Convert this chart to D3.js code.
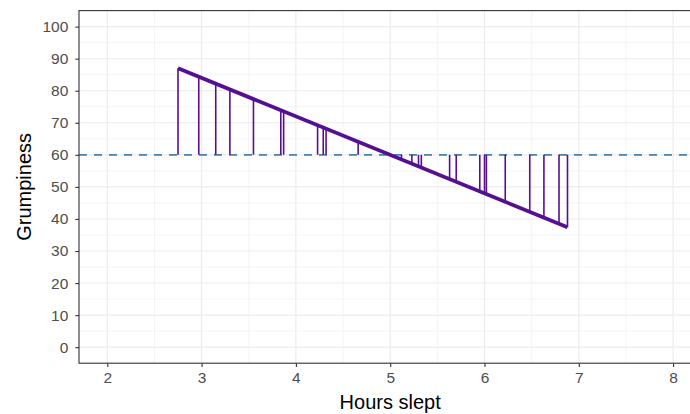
<!DOCTYPE html>
<html>
<head>
<meta charset="utf-8">
<script src="https://cdn.jsdelivr.net/npm/d3@7"></script>
<style>
  body { margin: 0; background: #fff; }
  text { font-family: "Liberation Sans", Arial, Helvetica, sans-serif; }
</style>
</head>
<body>
<svg id="chart" width="690" height="414"></svg>
<script>
// Hours slept for each observation and the model's fitted grumpiness
const sleepHours = [2.75, 2.97, 3.15, 3.30, 3.55, 3.84, 3.87, 4.23, 4.29, 4.32,
                    4.66, 5.12, 5.23, 5.30, 5.33, 5.63, 5.70, 5.95, 6.00, 6.02,
                    6.22, 6.48, 6.63, 6.79, 6.88];
const fittedGrump = [87.0, 84.4, 82.2, 80.4, 77.4, 73.9, 73.6, 69.2, 68.5, 68.2,
                     64.1, 58.6, 57.2, 56.4, 56.0, 52.4, 51.6, 48.6, 48.0, 47.8,
                     45.4, 42.2, 40.4, 38.5, 37.4];
// Mean grumpiness (horizontal reference)
const meanGrump = 60;

const xTicks = [2, 3, 4, 5, 6, 7, 8];
const yTicks = [0, 10, 20, 30, 40, 50, 60, 70, 80, 90, 100];
const xMinor = [2.5, 3.5, 4.5, 5.5, 6.5, 7.5];
const yMinor = [5, 15, 25, 35, 45, 55, 65, 75, 85, 95];

const svg = d3.select("#chart");
const panel = { left: 79, right: 701.4, top: 10.6, bottom: 363.2 };

const x = d3.scaleLinear().domain([1.7, 8.3]).range([panel.left, panel.right]);
const y = d3.scaleLinear().domain([-5, 105]).range([panel.bottom, panel.top]);

svg.append("clipPath").attr("id", "panel-clip")
  .append("rect")
  .attr("x", panel.left).attr("y", panel.top)
  .attr("width", panel.right - panel.left).attr("height", panel.bottom - panel.top);

const grid = svg.append("g").attr("clip-path", "url(#panel-clip)");

// minor grid
grid.selectAll(".xminor").data(xMinor).join("line")
  .attr("x1", d => x(d)).attr("x2", d => x(d))
  .attr("y1", panel.top).attr("y2", panel.bottom)
  .attr("stroke", "#EBEBEB").attr("stroke-width", 0.55);
grid.selectAll(".yminor").data(yMinor).join("line")
  .attr("y1", d => y(d)).attr("y2", d => y(d))
  .attr("x1", panel.left).attr("x2", panel.right)
  .attr("stroke", "#EBEBEB").attr("stroke-width", 0.55);
// major grid
grid.selectAll(".xmajor").data(xTicks).join("line")
  .attr("x1", d => x(d)).attr("x2", d => x(d))
  .attr("y1", panel.top).attr("y2", panel.bottom)
  .attr("stroke", "#EBEBEB").attr("stroke-width", 1.1);
grid.selectAll(".ymajor").data(yTicks).join("line")
  .attr("y1", d => y(d)).attr("y2", d => y(d))
  .attr("x1", panel.left).attr("x2", panel.right)
  .attr("stroke", "#EBEBEB").attr("stroke-width", 1.1);

const marks = svg.append("g").attr("clip-path", "url(#panel-clip)");

// mean line
marks.append("line")
  .attr("x1", panel.left).attr("x2", panel.right)
  .attr("y1", y(meanGrump)).attr("y2", y(meanGrump))
  .attr("stroke", "#4682B4").attr("stroke-width", 1.8)
  .attr("stroke-dasharray", "8,7");

const points = sleepHours.map((h, i) => ({ h, g: fittedGrump[i] }));
const purple = "#56108F";

// deviation of each fitted value from the mean
marks.selectAll(".dev").data(points).join("line")
  .attr("x1", d => x(d.h)).attr("x2", d => x(d.h))
  .attr("y1", y(meanGrump)).attr("y2", d => y(d.g))
  .attr("stroke", purple).attr("stroke-width", 1.6);

// regression line
marks.append("path")
  .datum([points[0], points[points.length - 1]])
  .attr("d", d3.line().x(d => x(d.h)).y(d => y(d.g)))
  .attr("fill", "none").attr("stroke", purple).attr("stroke-width", 3.8)
  .attr("stroke-linecap", "butt");

// panel border
svg.append("rect")
  .attr("x", panel.left).attr("y", panel.top)
  .attr("width", panel.right - panel.left).attr("height", panel.bottom - panel.top)
  .attr("fill", "none").attr("stroke", "#333333").attr("stroke-width", 1.1);

// axes
const xAxis = svg.append("g").attr("transform", `translate(0,${panel.bottom})`)
  .call(d3.axisBottom(x).tickValues(xTicks).tickSize(3.7).tickPadding(5).tickFormat(d3.format("d")));
const yAxis = svg.append("g").attr("transform", `translate(${panel.left},0)`)
  .call(d3.axisLeft(y).tickValues(yTicks).tickSize(3.7).tickPadding(7).tickFormat(d3.format("d")));
[xAxis, yAxis].forEach(a => {
  a.select(".domain").remove();
  a.selectAll(".tick line").attr("stroke", "#333333").attr("stroke-width", 1.1);
  a.selectAll(".tick text").attr("fill", "#4D4D4D").style("font-size", "15.5px")
    .style("font-family", '"Liberation Sans", Arial, sans-serif');
});

// axis titles
svg.append("text")
  .attr("x", (panel.left + 701.4) / 2).attr("y", 409)
  .attr("text-anchor", "middle").style("font-size", "20px").attr("fill", "#000")
  .text("Hours slept");
svg.append("text")
  .attr("transform", `translate(31,${(panel.top + panel.bottom) / 2}) rotate(-90)`)
  .attr("text-anchor", "middle").style("font-size", "20px").attr("fill", "#000")
  .text("Grumpiness");
</script>
</body>
</html>
